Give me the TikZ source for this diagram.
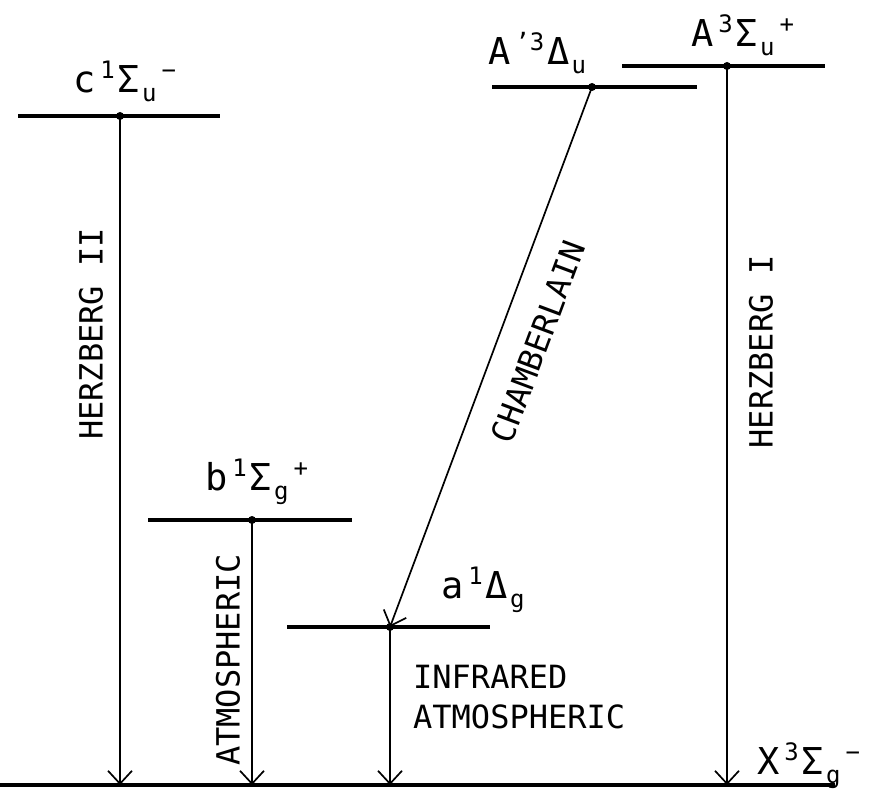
\documentclass[tikz,border=0pt]{standalone}
\usepackage{fontspec}
\setmainfont{DejaVu Sans Mono}
\usetikzlibrary{arrows.meta,positioning}

% raised and lowered indices for the term symbols
\newcommand{\hi}[1]{\hspace{5pt}\raisebox{14pt}{\fontsize{24}{24}\selectfont#1}\hspace{3pt}}
\newcommand{\lo}[1]{\hspace{2pt}\raisebox{-9pt}{\fontsize{24}{24}\selectfont#1}}

\begin{document}
\begin{tikzpicture}[x=1pt,y=-1pt,
      level/.style={line width=3.6pt},
      trans/.style={line width=1.7pt,
        -{Straight Barb[length=13pt,width=24pt,line width=1.7pt]}},
      dot/.style={circle,fill,inner sep=0pt,minimum size=8pt},
      term/.style={anchor=base west,inner sep=0pt,
        font=\fontsize{37}{37}\selectfont},
      band/.style={inner sep=0pt,font=\fontsize{32}{32}\selectfont}]

    \useasboundingbox (0,0) rectangle (870,789);

    % ground state
    \coordinate (gl) at (0,785);
    \coordinate (gr) at (835,785);
    \draw[level] (gl) -- (gr);
    \node[term] (X) at (757,774) {X\hi{3}Σ\lo{g}\hi{−}};

    % upper states
    \coordinate (c) at (120,116);
    \coordinate (Ap) at (592,87);
    \coordinate (A) at (727,66);
    \coordinate (b) at (252,520);
    \coordinate (a) at (390,627);

    \draw[level] ([xshift=-102pt]c) -- ([xshift=100pt]c);
    \draw[level] ([xshift=-100pt]Ap) -- ([xshift=105pt]Ap);
    \draw[level] ([xshift=-105pt]A) -- ([xshift=98pt]A);
    \draw[level] ([xshift=-104pt]b) -- ([xshift=100pt]b);
    \draw[level] ([xshift=-103pt]a) -- ([xshift=100pt]a);

    \node[term] (cl) at (73,93) {c\hi{1}Σ\lo{u}\hi{−}};
    \node[term] (Apl) at (488,65) {A\hi{'3}Δ\lo{u}};
    \node[term] (Al) at (691,47) {A\hi{3}Σ\lo{u}\hi{+}};
    \node[term] (bl) at (205,490) {b\hi{1}Σ\lo{g}\hi{+}};
    \node[term] (al) at (441,598) {a\hi{1}Δ\lo{g}};

    \foreach \s in {c,Ap,A,b,a}
      \node[dot] at (\s) {};

    % transitions
    \draw[trans] (c) -- (c |- gl);
    \draw[trans] (b) -- (b |- gl);
    \draw[trans] (a) -- (a |- gl);
    \draw[trans] (A) -- (A |- gl);
    \draw[trans] (Ap) -- (a);

    \node[band,rotate=69.5] (ch) at (538,342) {CHAMBERLAIN};
    \node[band,rotate=90] (h2) at (91,334) {HERZBERG II};
    \node[band,rotate=90] (h1) at (761,352) {HERZBERG I};
    \node[band,rotate=90] (atm) at (228,660) {ATMOSPHERIC};
    \node[band,anchor=north west,align=left] (ir) at (413,665)
      {INFRARED\\[8pt]ATMOSPHERIC};
\end{tikzpicture}
\end{document}
